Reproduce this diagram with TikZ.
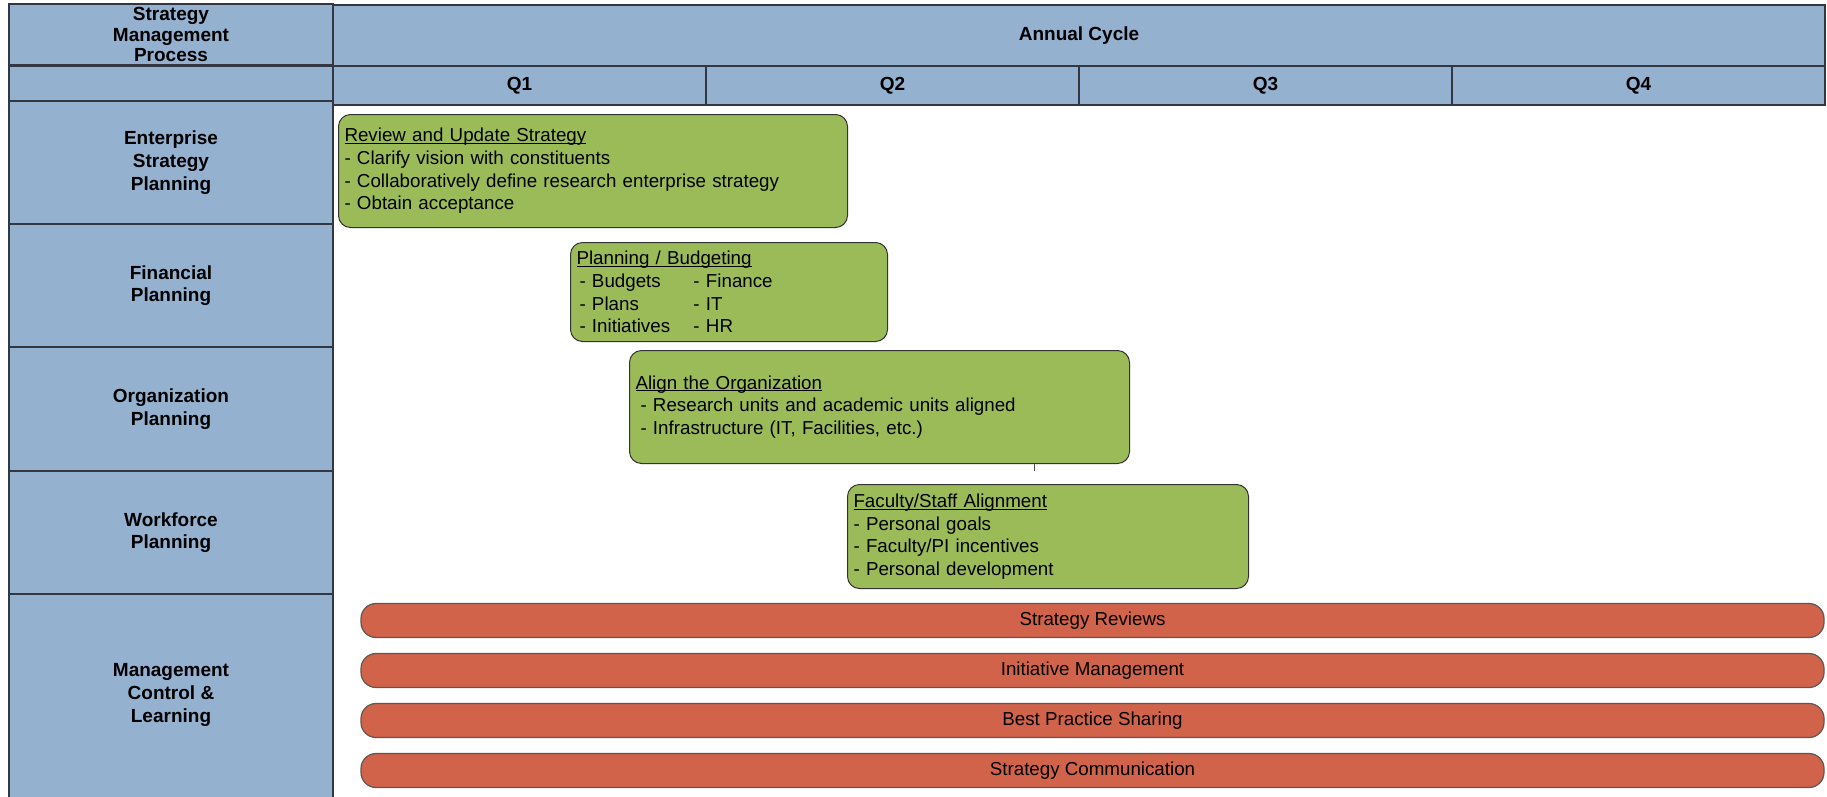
\documentclass[tikz,border=0pt]{standalone}
\usepackage{fontspec}
\setmainfont{Liberation Sans}
\definecolor{hdr}{RGB}{149,177,208}
\definecolor{grn}{RGB}{155,187,89}
\definecolor{rd}{RGB}{208,99,74}
\definecolor{edge}{RGB}{50,55,65}
\newcommand\tasktitle[1]{\setbox0\hbox{#1}\rlap{\rule[-2.2pt]{\wd0}{1pt}}\box0}
\begin{document}
\begin{tikzpicture}[x=1pt,y=-1pt,
  cell/.style={draw=edge, line width=1.3pt, fill=hdr, inner sep=0pt, align=center,
    font=\fontsize{19}{22.7}\selectfont\bfseries},
  task/.style={draw=black!80, line width=1pt, fill=grn, rounded corners=12pt,
    inner xsep=6pt, inner ysep=0pt, align=left, anchor=north west,
    font=\fontsize{18.75}{22.7}\selectfont},
  bar/.style={draw=black!65, line width=1.2pt, fill=rd, rounded corners=15pt,
    inner sep=0pt, minimum height=34pt, minimum width=1463pt,
    font=\fontsize{18.75}{22.7}\selectfont}]
\useasboundingbox (0,0) rectangle (1827,796);
% header
\node[cell, minimum width=324pt, minimum height=61pt, font=\fontsize{19}{20.3}\selectfont\bfseries] (smp) at (171,34.5) {Strategy\\Management\\Process};
\node[cell, minimum width=1492pt, minimum height=61pt] (annual) at (1079,35.5) {Annual Cycle};
\node[cell, minimum width=324pt, minimum height=35pt] (blank) at (171,83.5) {};
\node[cell, minimum width=373pt, minimum height=39pt] (q1) at (519.5,85.5) {Q1};
\node[cell, minimum width=373pt, minimum height=39pt] (q2) at (892.5,85.5) {Q2};
\node[cell, minimum width=373pt, minimum height=39pt] (q3) at (1265.5,85.5) {Q3};
\node[cell, minimum width=373pt, minimum height=39pt] (q4) at (1638.5,85.5) {Q4};
% left column
\node[cell, minimum width=324pt, minimum height=123pt] (esp) at (171,162.5) {Enterprise\\Strategy\\Planning};
\node[cell, minimum width=324pt, minimum height=123pt] (fin) at (171,285.5) {Financial\\Planning};
\node[cell, minimum width=324pt, minimum height=124pt] (org) at (171,409) {Organization\\Planning};
\node[cell, minimum width=324pt, minimum height=123pt] (wf) at (171,532.5) {Workforce\\Planning};
\node[cell, minimum width=324pt, minimum height=212pt] (mcl) at (171,700) {};
\node[font=\fontsize{19}{22.7}\selectfont\bfseries, align=center, inner sep=0pt] (mcltxt) at (171,695) {Management\\Control \&\\Learning};
% tasks
\node[task, minimum width=509pt, minimum height=113pt, text width=497pt] (review) at (338,114)
  {\tasktitle{Review and Update Strategy}\\- Clarify vision with constituents\\- Collaboratively define research enterprise strategy\\- Obtain acceptance};
\node[task, minimum width=317pt, minimum height=99pt, text width=305pt] (budget) at (570,242)
  {\tasktitle{Planning / Budgeting}\\
   \hspace*{3pt}\makebox[114pt][l]{- Budgets}- Finance\\
   \hspace*{3pt}\makebox[114pt][l]{- Plans}- IT\\
   \hspace*{3pt}\makebox[114pt][l]{- Initiatives}- HR};
\node[task, minimum width=500pt, minimum height=113pt, text width=488pt] (orgtask) at (629,350)
  {\tasktitle{Align the Organization}\\
   \hspace*{5pt}- Research units and academic units aligned\\
   \hspace*{5pt}- Infrastructure (IT, Facilities, etc.)};
\node[task, minimum width=401pt, minimum height=104pt, text width=389pt] (faculty) at (847,484)
  {\tasktitle{Faculty/Staff Alignment}\\- Personal goals\\- Faculty/PI incentives\\- Personal development};
\coordinate (tk) at (1034,471);
\draw[line width=1pt, black!70] (orgtask.south -| tk) -- (tk);
% bars
\node[bar] (b1) at (1092.5,620.5) {Strategy Reviews};
\node[bar] (b2) at (1092.5,670.5) {Initiative Management};
\node[bar] (b3) at (1092.5,720.5) {Best Practice Sharing};
\node[bar] (b4) at (1092.5,770.5) {Strategy Communication};
\end{tikzpicture}
\end{document}
